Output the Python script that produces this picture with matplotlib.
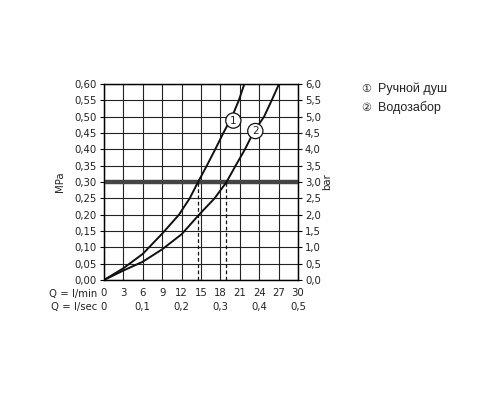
import matplotlib
matplotlib.use("Agg")
import matplotlib.pyplot as plt
import matplotlib.transforms as mtransforms

# Data (Q in l/min, p in MPa)
q1 = [0, 3, 6, 9, 11.6, 13.25, 14.55, 15.9, 17.2, 18.45, 19.8, 20.85, 21.7]
p1 = [0, 0.036, 0.080, 0.142, 0.20, 0.25, 0.30, 0.35, 0.40, 0.45, 0.50, 0.55, 0.60]
q2 = [0, 3, 6, 9, 12, 14.7, 17.1, 18.95, 20.35, 21.8, 23.05, 24.75, 25.93, 27.06]
p2 = [0, 0.029, 0.056, 0.094, 0.14, 0.20, 0.25, 0.30, 0.35, 0.40, 0.45, 0.50, 0.55, 0.60]
ref_pressure = 0.30
ref_q = [14.5, 18.9]
x_ticks = [0, 3, 6, 9, 12, 15, 18, 21, 24, 27, 30]
x_sec_pos = [0, 6, 12, 18, 24, 30]
x_sec_labels = ["0", "0,1", "0,2", "0,3", "0,4", "0,5"]
y_ticks = [0.00, 0.05, 0.10, 0.15, 0.20, 0.25, 0.30, 0.35, 0.40, 0.45, 0.50, 0.55, 0.60]
y_labels = ["0,00", "0,05", "0,10", "0,15", "0,20", "0,25", "0,30", "0,35", "0,40", "0,45", "0,50", "0,55", "0,60"]
bar_labels = ["0,0", "0,5", "1,0", "1,5", "2,0", "2,5", "3,0", "3,5", "4,0", "4,5", "5,0", "5,5", "6,0"]
legend_items = ["Ручной душ", "Водозабор"]
legend_marks = ["①", "②"]
curve_labels = ["1", "2"]
curve_label_pos = [(20.0, 0.488), (23.4, 0.456)]

plt.rcParams['font.family'] = ['DejaVu Sans']
fs = 7.3
tc = "#222222"

fig = plt.figure(figsize=(5, 4), dpi=100)
ax = fig.add_axes([0.208, 0.30, 0.388, 0.49])
ax.set_xlim(0, 30)
ax.set_ylim(0, 0.60)

ax.set_xticks(x_ticks)
ax.set_xticklabels([str(v) for v in x_ticks], fontsize=fs, color=tc)
ax.set_yticks(y_ticks)
ax.set_yticklabels(y_labels, fontsize=fs, color=tc)
ax.tick_params(axis='x', length=0, pad=6)
ax.tick_params(axis='y', length=3, width=0.8, pad=2, direction='out')
ax.grid(True, color="#222222", linewidth=0.8)
for s in ax.spines.values():
    s.set_linewidth(1.0)
    s.set_color("#111111")

ax2 = ax.twinx()
ax2.set_ylim(0, 0.60)
ax2.set_yticks(y_ticks)
ax2.set_yticklabels(bar_labels, fontsize=fs, color=tc)
ax2.tick_params(axis='y', length=3, width=0.8, pad=2, direction='out')
ax2.set_ylabel("bar", fontsize=fs, color=tc, rotation=90, labelpad=1)
ax.set_ylabel("MPa", fontsize=fs, color=tc, labelpad=7)

ax.axhline(ref_pressure, color="#444444", linewidth=3.2, zorder=3)
for q in ref_q:
    ax.plot([q, q], [0, ref_pressure], color="#111111", linestyle=(0, (3, 2)), linewidth=0.9, zorder=3)

ax.plot(q1, p1, color="#111111", linewidth=1.4, zorder=4, solid_joinstyle='round')
ax.plot(q2, p2, color="#111111", linewidth=1.4, zorder=4, solid_joinstyle='round')

for lab, (x, y) in zip(curve_labels, curve_label_pos):
    ax.text(x, y, lab, fontsize=7.5, ha='center', va='center', zorder=5, color=tc,
            bbox=dict(boxstyle='circle,pad=0.25', fc='white', ec='#111111', lw=0.9))

trans = mtransforms.blended_transform_factory(ax.transData, ax.transAxes)
for x, lab in zip(x_sec_pos, x_sec_labels):
    ax.text(x, -0.137, lab, transform=trans, fontsize=fs, color=tc, ha='center', va='center')
ax.text(-1.0, -0.072, "Q = l/min", transform=trans, fontsize=fs, color=tc, ha='right', va='center')
ax.text(-1.0, -0.137, "Q = l/sec", transform=trans, fontsize=fs, color=tc, ha='right', va='center')

for i, (mk, lab) in enumerate(zip(legend_marks, legend_items)):
    y = 0.778 - 0.047 * i
    fig.text(0.722, y, mk, fontsize=8, color=tc, va='center', ha='left',
             family=['DejaVu Sans'])
    fig.text(0.756, y, lab, fontsize=9, color=tc, va='center', ha='left',
             family=['Liberation Sans', 'DejaVu Sans'])

fig.savefig("out.png", dpi=100, facecolor='white')
